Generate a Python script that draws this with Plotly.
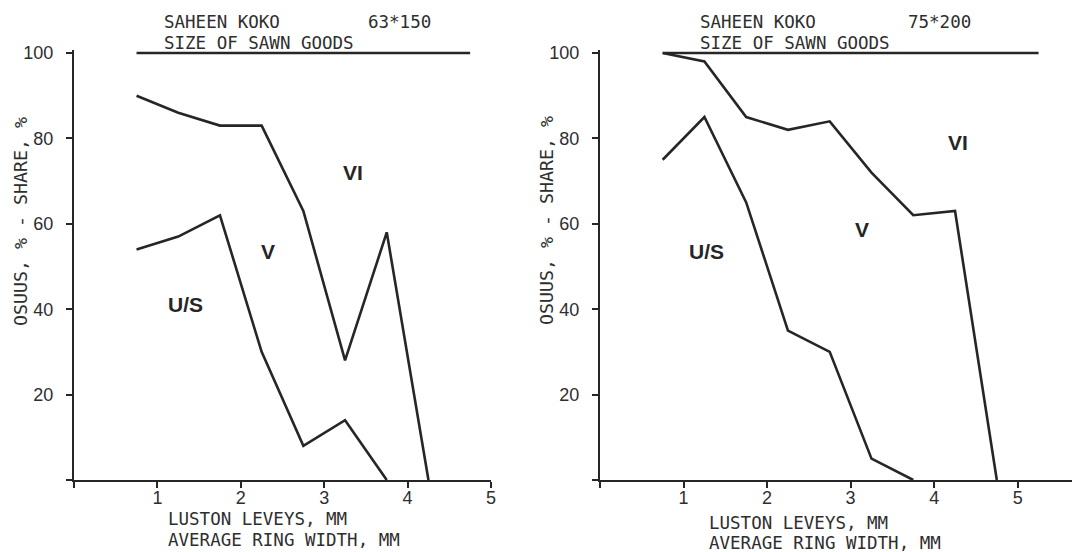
import plotly.graph_objects as go

W, H = 1072, 552

# ---- data ----
ring_width = [0.75, 1.25, 1.75, 2.25, 2.75, 3.25, 3.75, 4.25, 4.75]

left_us_v = [54, 57, 62, 30, 8, 14, 0]          # U/S | V boundary, 63*150
left_v_vi = [90, 86, 83, 83, 63, 28, 58, 0]      # V | VI boundary, 63*150
left_top_x = [0.75, 4.75]
left_top_y = [100, 100]

right_us_v = [75, 85, 65, 35, 30, 5, 0]          # U/S | V boundary, 75*200
right_v_vi = [100, 98, 85, 82, 84, 72, 62, 63, 0]  # V | VI boundary, 75*200
right_top_x = [0.75, 5.25]
right_top_y = [100, 100]

y_ticks = [0, 20, 40, 60, 80, 100]
y_tick_text = ["", "20", "40", "60", "80", "100"]
x_ticks = [0, 1, 2, 3, 4, 5]
x_tick_text = ["", "1", "2", "3", "4", "5"]

left_labels = [("VI", 3.34, 72), ("V", 2.33, 53.5), ("U/S", 1.34, 41)]
right_labels = [("VI", 4.29, 79), ("V", 3.14, 58.6), ("U/S", 1.27, 53.5)]

LINE = "#262626"
TXT = "#2e2e2e"
MONO = "DejaVu Sans Mono"
SANS = "Liberation Sans"


def px(x):
    return x / W


def py(y):
    return 1 - y / H


fig = go.Figure()

def add_line(xs, ys, xa, ya):
    fig.add_trace(go.Scatter(x=xs, y=ys, mode="lines", xaxis=xa, yaxis=ya,
                             line=dict(color=LINE, width=2.6),
                             hoverinfo="skip", showlegend=False))

add_line(ring_width[:len(left_us_v)], left_us_v, "x", "y")
add_line(ring_width[:len(left_v_vi)], left_v_vi, "x", "y")
add_line(left_top_x, left_top_y, "x", "y")
add_line(ring_width[:len(right_us_v)], right_us_v, "x2", "y2")
add_line(ring_width[:len(right_v_vi)], right_v_vi, "x2", "y2")
add_line(right_top_x, right_top_y, "x2", "y2")

y_dom = [py(480), py(50)]
axis_common = dict(showgrid=False, zeroline=False, showline=True, automargin=False,
                   linecolor=LINE, linewidth=2, ticks="outside",
                   tickcolor=LINE, tickwidth=2, ticklen=6,
                   tickfont=dict(family=SANS, size=18, color=TXT))

fig.update_layout(
    template="none",
    width=W, height=H, margin=dict(l=0, r=0, t=0, b=0, pad=0, autoexpand=False),
    paper_bgcolor="white", plot_bgcolor="rgba(0,0,0,0)",
    xaxis=dict(domain=[px(74), px(491)], range=[0, 5], anchor="y", ticklabelstandoff=-6,
               tickvals=x_ticks, ticktext=x_tick_text, **axis_common),
    yaxis=dict(domain=y_dom, range=[0, 100.7], anchor="x", ticklabelstandoff=9,
               tickvals=y_ticks, ticktext=y_tick_text, **axis_common),
    xaxis2=dict(domain=[px(600), 1], range=[0, 5.65], anchor="y2", ticklabelstandoff=-6,
                tickvals=x_ticks, ticktext=x_tick_text, **axis_common),
    yaxis2=dict(domain=y_dom, range=[0, 100.7], anchor="x2", ticklabelstandoff=9,
                tickvals=y_ticks, ticktext=y_tick_text, **axis_common),
)

ann = []

def ptxt(text, x, y, xanchor="left", textangle=0, size=17.5):
    ann.append(dict(text=text, x=px(x), y=py(y), xref="paper", yref="paper",
                    xanchor=xanchor, yanchor="middle", showarrow=False,
                    font=dict(family=MONO, size=size, color=TXT),
                    textangle=textangle))

# titles
ptxt("SAHEEN KOKO", 162, 22)
ptxt("63*150", 366, 22)
ptxt("SIZE OF SAWN GOODS", 162, 43)
ptxt("SAHEEN KOKO", 698, 22)
ptxt("75*200", 906, 22)
ptxt("SIZE OF SAWN GOODS", 698, 43)
# x-axis titles
ptxt("LUSTON LEVEYS, MM", 166, 519)
ptxt("AVERAGE RING WIDTH, MM", 166, 540)
ptxt("LUSTON LEVEYS, MM", 707, 523)
ptxt("AVERAGE RING WIDTH, MM", 707, 543)
# y-axis titles
ptxt("OSUUS, % - SHARE, %", 20, 222, xanchor="center", textangle=-90, size=18.3)
ptxt("OSUUS, % - SHARE, %", 546, 221, xanchor="center", textangle=-90, size=18.3)

for (t, x, y) in left_labels:
    ann.append(dict(text="<b>%s</b>" % t, x=x, y=y, xref="x", yref="y",
                    showarrow=False, font=dict(family=SANS, size=21, color=LINE)))
for (t, x, y) in right_labels:
    ann.append(dict(text="<b>%s</b>" % t, x=x, y=y, xref="x2", yref="y2",
                    showarrow=False, font=dict(family=SANS, size=21, color=LINE)))

fig.update_layout(annotations=ann)

fig.write_html("out.html")
